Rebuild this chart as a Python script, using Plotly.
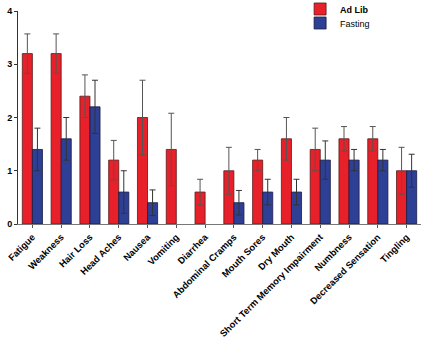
import plotly.graph_objects as go

categories = ["Fatigue", "Weakness", "Hair Loss", "Head Aches", "Nausea", "Vomiting",
              "Diarrhea", "Abdominal Cramps", "Mouth Sores", "Dry Mouth",
              "Short Term Memory Impairment", "Numbness", "Decreased Sensation", "Tingling"]
adlib = [3.2, 3.2, 2.4, 1.2, 2.0, 1.4, 0.6, 1.0, 1.2, 1.6, 1.4, 1.6, 1.6, 1.0]
adlib_err = [0.37, 0.37, 0.4, 0.37, 0.7, 0.68, 0.24, 0.44, 0.2, 0.4, 0.4, 0.23, 0.23, 0.44]
fasting = [1.4, 1.6, 2.2, 0.6, 0.4, 0, 0, 0.4, 0.6, 0.6, 1.2, 1.2, 1.2, 1.0]
fasting_err = [0.4, 0.4, 0.5, 0.4, 0.24, 0, 0, 0.23, 0.24, 0.24, 0.36, 0.2, 0.2, 0.31]

# zero-valued bars have no visible mark or error bar
fasting_y = [v if v > 0 else None for v in fasting]
fasting_e = [e if v > 0 else None for v, e in zip(fasting, fasting_err)]

fig = go.Figure()
fig.add_trace(go.Bar(
    x=categories, y=adlib, name="<b>Ad Lib</b>", legend="legend",
    marker=dict(color="#e8202a", line=dict(color="#5a1a1a", width=0.8)),
    error_y=dict(type="data", array=adlib_err, visible=True, color="#555555", thickness=1, width=3),
))
fig.add_trace(go.Bar(
    x=categories, y=fasting_y, name="Fasting", legend="legend2",
    marker=dict(color="#2e3f96", line=dict(color="#1a1a40", width=0.8)),
    error_y=dict(type="data", array=fasting_e, visible=True, color="#333333", thickness=1, width=3),
))

leg_common = dict(xanchor="left", yanchor="middle", font=dict(size=9),
                  itemwidth=30, bgcolor="rgba(0,0,0,0)")

fig.update_layout(
    width=431, height=340,
    margin=dict(l=18, r=10, t=11, b=116, autoexpand=False),
    barmode="group", bargap=0.3, bargroupgap=0,
    plot_bgcolor="white", paper_bgcolor="white",
    font=dict(family="Liberation Sans, Arial", size=10, color="black"),
    showlegend=True,
    legend=dict(x=0.7, y=1.0094, **leg_common),
    legend2=dict(x=0.7, y=0.9437, **leg_common),
    xaxis=dict(
        tickangle=-45, showline=True, linecolor="#777777", linewidth=1,
        ticks="outside", ticklen=3, tickcolor="#555555",
        tickfont=dict(size=9.4, family="Liberation Sans, Arial", weight="bold"),
        showgrid=False, automargin=False,
    ),
    yaxis=dict(
        range=[0, 4], tickvals=[0, 1, 2, 3, 4], showline=True, linecolor="#333333", linewidth=1,
        ticks="outside", ticklen=3, tickcolor="#333333",
        tickfont=dict(size=9, family="Liberation Sans, Arial", weight="bold"),
        showgrid=False, zeroline=False, automargin=False,
    ),
)

fig.write_html("out.html")
